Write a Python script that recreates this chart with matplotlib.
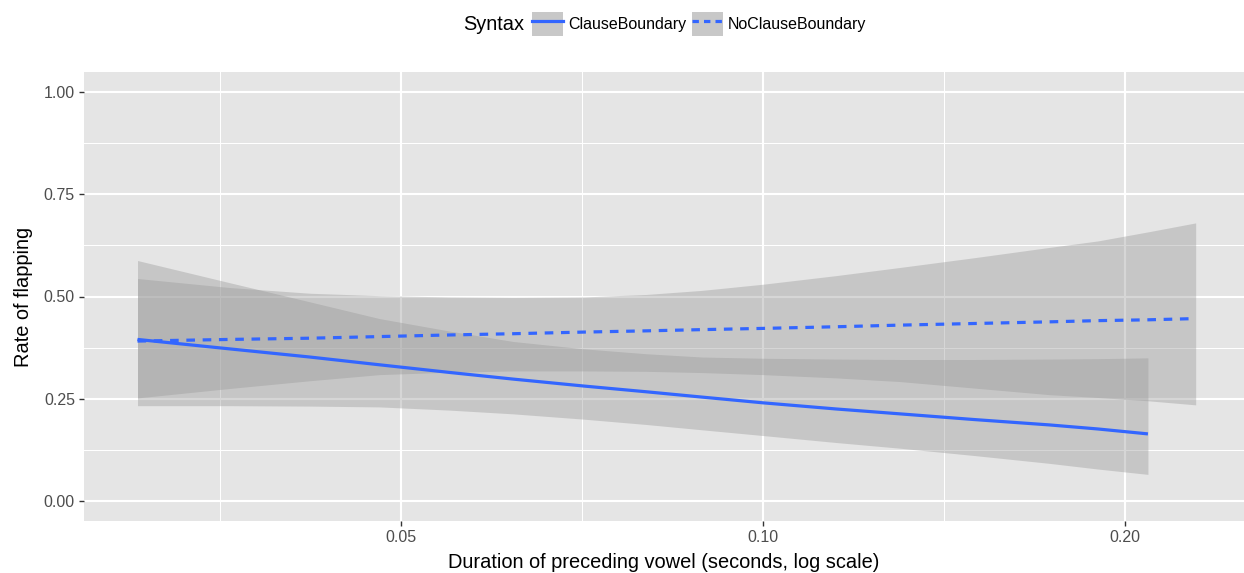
import numpy as np
import matplotlib.pyplot as plt
from matplotlib.patches import Patch
from matplotlib.lines import Line2D
from matplotlib.ticker import FixedLocator, FixedFormatter

plt.rcParams['font.family'] = ['Liberation Sans', 'DejaVu Sans']

# vowel duration (s)
dur_clause = [0.0302, 0.036, 0.042, 0.048, 0.055, 0.062, 0.071, 0.080, 0.089,
              0.10, 0.115, 0.13, 0.15, 0.173, 0.19, 0.209]
dur_noclause = dur_clause + [0.229]

# ClauseBoundary fit and confidence band
fit_clause = [0.395, 0.372, 0.352, 0.333, 0.314, 0.298, 0.281, 0.267, 0.254,
              0.240, 0.225, 0.213, 0.199, 0.186, 0.176, 0.164]
hi_clause = [0.588, 0.534, 0.487, 0.446, 0.415, 0.390, 0.372, 0.360, 0.352,
             0.349, 0.347, 0.346, 0.346, 0.347, 0.348, 0.350]
lo_clause = [0.233, 0.233, 0.232, 0.230, 0.222, 0.213, 0.200, 0.187, 0.174,
             0.160, 0.143, 0.129, 0.111, 0.092, 0.078, 0.065]

# NoClauseBoundary fit and confidence band
fit_noclause = [0.391, 0.395, 0.398, 0.402, 0.406, 0.409, 0.413, 0.416, 0.419,
                0.422, 0.426, 0.430, 0.434, 0.438, 0.441, 0.443, 0.446]
hi_noclause = [0.544, 0.522, 0.508, 0.502, 0.499, 0.498, 0.499, 0.505, 0.515,
               0.530, 0.551, 0.571, 0.595, 0.620, 0.636, 0.658, 0.680]
lo_noclause = [0.252, 0.275, 0.294, 0.309, 0.315, 0.318, 0.318, 0.317, 0.314,
               0.309, 0.301, 0.292, 0.276, 0.260, 0.253, 0.245, 0.235]

x_major = [0.05, 0.10, 0.20]
x_labels = ['0.05', '0.10', '0.20']
y_major = [0.0, 0.25, 0.5, 0.75, 1.0]
y_labels = ['0.00', '0.25', '0.50', '0.75', '1.00']

blue = '#3366FF'
band = '#999999'

fig = plt.figure(figsize=(12.44, 5.73), dpi=100)
ax = fig.add_axes([84 / 1244, 52 / 573, 1160 / 1244, 449 / 573])
ax.set_facecolor('#E5E5E5')

ax.fill_between(dur_clause, lo_clause, hi_clause, color=band, alpha=0.4, lw=0)
ax.fill_between(dur_noclause, lo_noclause, hi_noclause, color=band, alpha=0.4, lw=0)
ax.plot(dur_clause, fit_clause, color=blue, lw=2.3, solid_capstyle='butt')
ax.plot(dur_noclause, fit_noclause, color=blue, lw=2.3, dashes=(2.7, 2.4))

ax.set_xscale('log')
ax.set_xlim(0.02726, 0.2512)
ax.set_ylim(-0.049, 1.049)

ax.xaxis.set_major_locator(FixedLocator(x_major))
ax.xaxis.set_major_formatter(FixedFormatter(x_labels))
ax.xaxis.set_minor_locator(FixedLocator([v / np.sqrt(2) for v in x_major]))
ax.xaxis.set_minor_formatter(FixedFormatter([]))
ax.yaxis.set_major_locator(FixedLocator(y_major))
ax.yaxis.set_major_formatter(FixedFormatter(y_labels))
ax.yaxis.set_minor_locator(FixedLocator([0.125, 0.375, 0.625, 0.875]))

ax.grid(which='major', color='white', lw=1.5)
ax.grid(which='minor', color='white', lw=0.75)
ax.set_axisbelow(True)
for s in ax.spines.values():
    s.set_visible(False)
ax.tick_params(which='major', length=3.5, width=1, color='#333333',
               labelcolor='#4D4D4D', labelsize=11.5, pad=3)
ax.tick_params(which='minor', length=0)

ax.set_xlabel('Duration of preceding vowel (seconds, log scale)', fontsize=14.4, labelpad=6)
ax.set_ylabel('Rate of flapping', fontsize=14.4, labelpad=8)

handles = [(Patch(facecolor='#C8C8C8', edgecolor='none'),
            Line2D([], [], color=blue, lw=2.3)),
           (Patch(facecolor='#C8C8C8', edgecolor='none'),
            Line2D([], [], color=blue, lw=2.3, dashes=(2.0, 1.6)))]
fig.legend(handles, ['ClauseBoundary', 'NoClauseBoundary'], ncol=2,
           loc='center left', bbox_to_anchor=(532 / 1244, 1 - 24 / 573),
           frameon=False, fontsize=11.5, borderpad=0, borderaxespad=0,
           handlelength=1.94, handleheight=1.94, handletextpad=0.3,
           columnspacing=0.4)
fig.text(524 / 1244, 1 - 24 / 573, 'Syntax', fontsize=14.4, ha='right',
         va='center', color='black')

fig.savefig('out.png', dpi=100)
